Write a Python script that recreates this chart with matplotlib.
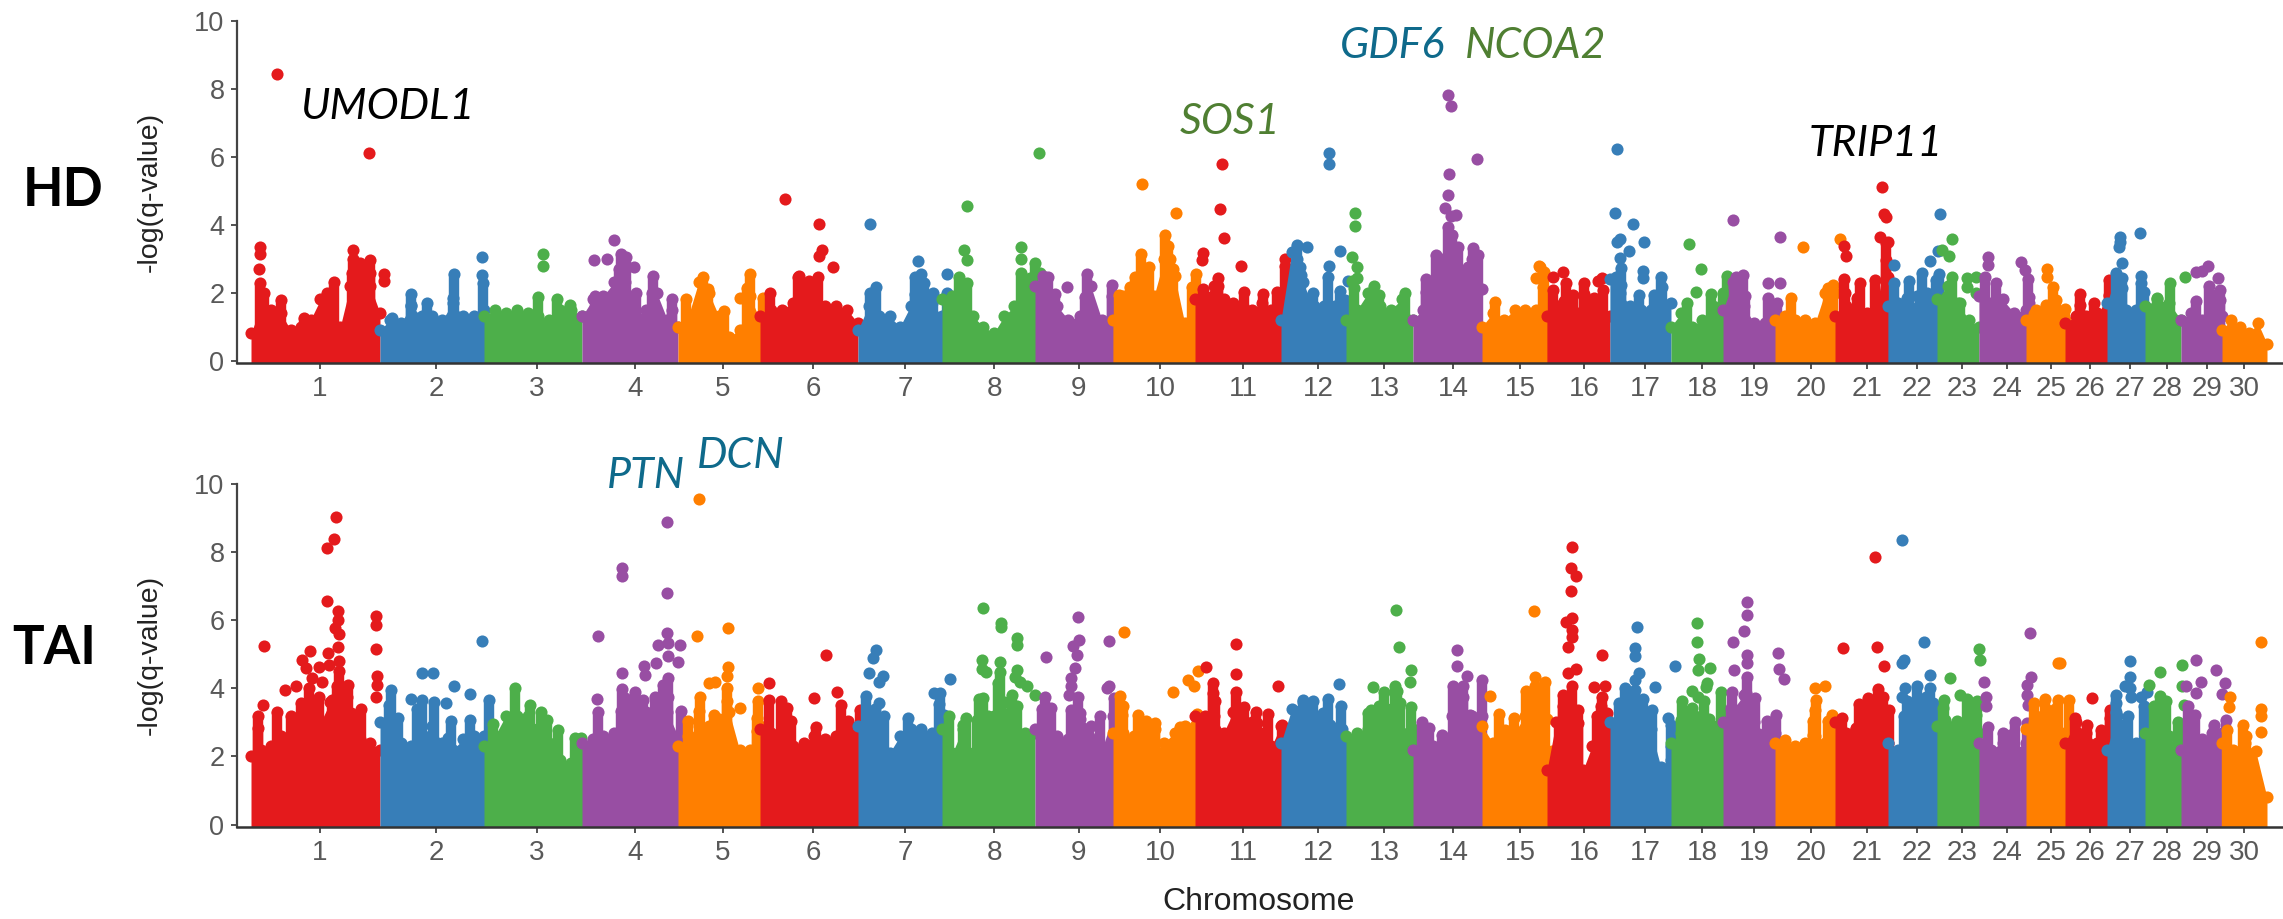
import matplotlib
matplotlib.use("Agg")
import matplotlib.pyplot as plt
import numpy as np

WIDTH, HEIGHT = 2283, 919

chromosomes = [str(i) for i in range(1, 31)]
chrom_colors = ["#E41A1C", "#377EB8", "#4DAF4A", "#984EA3", "#FF7F00"]

chrom_edges = [251, 380, 484, 582, 678, 760, 858, 942, 1035, 1113, 1195, 1281, 1346, 1413, 1482, 1547,
               1610, 1671, 1723, 1775, 1835, 1888, 1937, 1979, 2026, 2065, 2107, 2145, 2181, 2222, 2267]
chrom_ticks = [320, 436, 537, 635, 723, 813, 905, 994, 1079, 1160, 1243, 1318, 1384, 1453, 1520,
               1584, 1645, 1702, 1754, 1811, 1867, 1917, 1962, 2007, 2051, 2090, 2130, 2167, 2207, 2244]
y_ticks = [0, 2, 4, 6, 8, 10]

# top of the dense cloud of points along each chromosome
hd_upper = [
    [0.8, 1.6, 1.5, 1.4, 0.9, 1.0, 1.2, 1.8, 1.9, 1.0, 2.2, 2.1, 2.2, 1.4],
    [0.9, 1.2, 1.1, 1.6, 1.3, 1.3, 1.2, 1.7, 1.3, 1.3, 1.5],
    [1.3, 1.5, 1.4, 1.5, 1.4, 1.3, 1.2, 1.5, 1.5, 1.3],
    [1.3, 1.8, 1.9, 2.3, 2.3, 1.3, 1.5, 2.0, 1.2, 1.0],
    [1.0, 1.3, 2.3, 2.0, 1.3, 0.7, 0.9, 1.9, 1.2],
    [1.3, 1.5, 1.5, 1.7, 1.8, 1.7, 1.6, 1.6, 1.5, 1.1],
    [0.9, 1.6, 1.3, 1.3, 1.0, 1.6, 1.7, 1.7, 1.3],
    [1.8, 1.9, 1.9, 1.3, 1.0, 0.8, 1.3, 1.6, 2.0, 2.1],
    [2.2, 2.0, 1.6, 1.2, 1.3, 2.2, 1.2, 1.4],
    [1.2, 1.9, 2.0, 2.7, 1.9, 3.0, 2.5, 1.1, 1.9],
    [1.8, 1.9, 2.2, 1.8, 1.7, 1.6, 1.5, 1.7, 1.5, 2.0],
    [1.2, 3.2, 2.3, 1.6, 1.6, 1.6, 1.3],
    [1.2, 1.5, 2.0, 1.6, 1.5, 1.8, 1.2],
    [1.2, 1.5, 2.0, 3.0, 3.3, 2.5, 3.0, 2.1],
    [1.0, 1.4, 1.2, 1.5, 1.5, 1.5, 1.8],
    [1.3, 1.6, 1.4, 1.4, 1.4, 1.3, 1.3],
    [2.4, 2.0, 1.6, 1.5, 1.5, 1.6, 1.7],
    [1.0, 1.4, 1.0, 1.2, 1.6, 1.7],
    [1.5, 2.3, 1.6, 1.1, 1.1, 1.1],
    [1.2, 1.3, 1.2, 1.2, 1.1, 2.0, 2.0],
    [1.3, 1.6, 1.5, 1.4, 1.7, 3.5],
    [1.6, 1.7, 1.4, 1.9, 2.0, 1.9],
    [1.8, 2.2, 1.7, 1.2, 1.0],
    [1.9, 1.7, 1.8, 1.4, 1.5],
    [1.2, 1.5, 1.3, 1.3, 1.2],
    [1.1, 1.3, 1.3, 1.4, 1.5],
    [1.7, 2.5, 1.5, 1.5, 1.6],
    [1.6, 1.8, 1.7, 1.2],
    [1.2, 1.4, 1.2, 1.5, 1.3],
    [0.9, 1.2, 1.0, 0.8, 1.1, 0.5],
]

tai_upper = [
    [2.0, 2.2, 2.3, 2.6, 2.6, 2.9, 3.0, 3.0, 3.6, 3.6, 3.0, 2.5, 2.4, 2.2],
    [3.0, 3.0, 2.4, 2.3, 2.6, 2.9, 2.4, 2.2, 2.5, 2.6, 2.6],
    [2.3, 2.6, 3.2, 3.2, 3.2, 2.8, 2.4, 1.9, 1.8, 1.8],
    [2.4, 2.5, 2.6, 2.7, 3.0, 3.2, 3.3, 3.5, 3.3, 2.6],
    [2.3, 2.6, 2.9, 2.9, 3.1, 3.3, 2.2, 2.2, 2.9],
    [2.8, 2.7, 2.7, 2.3, 2.4, 2.6, 2.5, 2.6, 2.7, 2.9],
    [2.9, 3.2, 2.4, 2.1, 2.6, 2.8, 2.8, 2.7, 2.9],
    [2.8, 2.1, 2.8, 2.1, 3.0, 3.2, 3.6, 2.8, 2.7, 2.7],
    [2.8, 3.0, 2.6, 2.5, 3.1, 2.9, 2.2, 3.2],
    [2.7, 2.7, 2.6, 2.4, 2.1, 2.4, 2.7, 2.9, 2.9],
    [3.2, 3.2, 3.2, 2.7, 3.3, 3.0, 3.0, 2.3, 2.3, 2.9],
    [2.4, 3.4, 3.6, 2.7, 2.8, 2.7, 2.2],
    [2.6, 2.7, 2.8, 3.0, 3.4, 2.7, 2.8],
    [2.2, 2.5, 2.3, 2.3, 3.2, 3.2, 3.2, 3.2],
    [2.9, 2.4, 2.4, 2.7, 3.2, 3.2, 3.1],
    [1.6, 3.0, 3.4, 3.2, 1.6, 2.3, 2.9, 2.4],
    [3.0, 3.0, 3.1, 3.0, 2.8, 1.7, 1.9],
    [2.4, 2.7, 2.6, 2.7, 2.9, 2.9],
    [3.0, 3.4, 3.8, 3.0, 2.7, 2.7],
    [2.4, 2.2, 2.3, 2.4, 2.6, 2.4, 2.8],
    [3.0, 2.7, 2.8, 3.1, 3.1, 2.4],
    [2.4, 2.2, 2.6, 3.0, 3.2, 3.2],
    [2.9, 2.9, 2.7, 2.7, 2.7],
    [2.4, 2.2, 2.4, 2.2, 2.4],
    [2.8, 3.2, 3.4, 3.4, 2.7],
    [2.4, 3.0, 2.7, 2.4, 2.7],
    [2.2, 3.2, 2.5, 2.4, 2.4],
    [2.7, 3.2, 2.6, 2.1],
    [2.2, 2.6, 2.5, 2.7, 2.7],
    [2.4, 2.2, 2.4, 2.15, 0.8],
]

# single markers standing out of the cloud, (position, value), per chromosome
hd_peaks = [
    [(277, 8.43), (369, 6.12), (260, 3.33), (260, 3.14), (259, 2.7), (260, 2.27), (264, 2.0), (281, 1.78),
     (334, 2.31), (353, 3.25), (353, 2.98), (370, 2.96), (360, 2.86), (352, 2.57), (384, 2.55), (384, 2.35),
     (370, 2.57), (304, 1.25), (327, 1.98)],
    [(392, 1.25), (411, 1.95), (411, 1.65), (427, 1.7), (454, 2.55), (453, 1.85), (482, 3.05), (482, 2.53), (483, 2.28)],
    [(543, 3.14), (543, 2.79), (538, 1.88), (557, 1.8), (570, 1.65)],
    [(595, 1.9), (594, 2.96), (607, 2.98), (614, 3.55), (621, 3.14), (626, 3.05), (619, 2.7), (634, 2.75),
     (653, 2.5), (636, 2.0), (652, 2.0), (672, 1.8), (672, 1.5)],
    [(686, 1.81), (750, 2.55), (747, 2.15), (763, 1.83), (703, 2.45), (708, 2.1), (740, 1.85), (724, 1.45)],
    [(785, 4.75), (819, 4.03), (822, 3.24), (819, 3.08), (833, 2.74), (799, 2.49), (818, 2.45), (809, 2.35),
     (799, 2.27), (798, 2.47), (770, 1.98)],
    [(870, 4.03), (918, 2.94), (921, 2.55), (915, 2.47), (924, 2.29), (876, 2.18), (870, 1.98), (915, 1.95),
     (933, 1.98), (947, 2.55), (947, 1.98)],
    [(967, 4.55), (964, 3.25), (967, 2.96), (959, 2.47), (967, 2.29), (1039, 6.12), (1021, 3.33), (1021, 2.99),
     (1035, 2.88), (1021, 2.59), (1040, 2.59), (1030, 2.42)],
    [(1067, 2.18), (1087, 2.55), (1112, 2.22), (1055, 1.95), (1085, 1.88), (1112, 1.9), (1043, 2.5), (1048, 2.45)],
    [(1142, 5.19), (1176, 4.34), (1165, 3.69), (1168, 3.37), (1141, 3.13), (1119, 1.93), (1135, 2.47), (1196, 2.55),
     (1192, 2.18), (1170, 3.0), (1149, 2.76), (1173, 2.7), (1130, 2.18)],
    [(1222, 5.77), (1220, 4.45), (1224, 3.61), (1203, 3.16), (1202, 2.96), (1241, 2.79), (1218, 2.44), (1285, 2.98),
     (1285, 2.78), (1286, 2.47), (1287, 2.13), (1263, 1.96), (1244, 2.03), (1277, 2.03), (1218, 2.2), (1203, 2.1)],
    [(1329, 6.12), (1329, 5.77), (1340, 3.23), (1307, 3.35), (1297, 3.4), (1329, 2.79), (1328, 2.47), (1340, 2.06),
     (1348, 2.35), (1301, 2.52), (1313, 2.0), (1345, 1.78), (1297, 3.0), (1300, 2.75)],
    [(1355, 4.35), (1355, 3.97), (1352, 3.04), (1357, 2.76), (1357, 2.42), (1354, 2.13), (1374, 2.2), (1379, 1.93),
     (1405, 1.98), (1352, 2.35)],
    [(1448, 7.81), (1451, 7.49), (1477, 5.93), (1449, 5.49), (1448, 4.87), (1445, 4.48), (1451, 4.24), (1456, 4.28),
     (1448, 3.94), (1449, 3.6), (1436, 3.11), (1473, 3.32), (1478, 3.11), (1426, 2.39), (1426, 2.03), (1458, 3.35),
     (1452, 3.7), (1441, 2.9), (1468, 2.75), (1475, 2.5)],
    [(1495, 1.71), (1540, 2.76), (1536, 2.42), (1543, 2.18), (1539, 2.79), (1544, 2.6)],
    [(1553, 2.47), (1563, 2.6), (1566, 2.27), (1573, 1.93), (1584, 2.27), (1584, 1.96), (1594, 1.83), (1602, 2.42),
     (1598, 2.35), (1603, 2.08), (1553, 2.08), (1564, 1.74)],
    [(1617, 6.24), (1615, 4.33), (1633, 4.02), (1620, 3.58), (1617, 3.48), (1644, 3.5), (1629, 3.23), (1620, 3.01),
     (1621, 2.72), (1616, 2.47), (1643, 2.65), (1643, 2.42), (1661, 2.45), (1662, 2.18), (1639, 1.93), (1654, 1.93),
     (1621, 2.22)],
    [(1689, 3.42), (1701, 2.7), (1696, 2.03), (1711, 1.96), (1723, 1.98), (1727, 2.49), (1687, 1.7)],
    [(1733, 4.13), (1780, 3.65), (1743, 2.52), (1736, 2.47), (1745, 1.91), (1768, 2.27), (1780, 2.27), (1768, 1.85),
     (1777, 1.69), (1734, 2.18)],
    [(1791, 1.85), (1803, 3.33), (1840, 3.57), (1828, 2.13), (1833, 2.22), (1830, 1.78)],
    [(1882, 5.1), (1884, 4.31), (1886, 4.22), (1880, 3.63), (1886, 3.45), (1844, 3.37), (1846, 3.08), (1844, 2.39),
     (1860, 2.27), (1875, 2.37), (1845, 1.98), (1857, 1.85), (1886, 2.96), (1888, 2.47), (1892, 2.08)],
    [(1940, 4.3), (1894, 2.8), (1894, 2.27), (1909, 2.35), (1922, 2.57), (1930, 2.94), (1938, 3.23), (1939, 2.55),
     (1936, 2.37), (1907, 1.83)],
    [(1952, 3.57), (1942, 3.25), (1949, 3.08), (1952, 2.45), (1967, 2.42), (1976, 2.45), (1967, 2.18), (1976, 1.98),
     (1960, 1.69)],
    [(1988, 3.04), (1988, 2.81), (1985, 2.45), (1996, 2.27), (2021, 2.89), (2025, 2.67), (2028, 2.39), (2029, 1.88),
     (2029, 1.69)],
    [(2047, 2.7), (2047, 2.45), (2053, 2.18), (2056, 1.78), (2046, 1.64), (2065, 1.51), (2034, 1.37)],
    [(2080, 1.96), (2080, 1.64), (2094, 1.69), (2109, 2.37), (2109, 1.93)],
    [(2120, 3.63), (2119, 3.35), (2120, 3.5), (2140, 3.75), (2122, 2.86), (2116, 2.59), (2141, 2.49), (2141, 2.27),
     (2144, 2.03), (2122, 2.42), (2122, 2.13)],
    [(2170, 2.29), (2185, 2.47), (2157, 1.83)],
    [(2196, 2.6), (2202, 2.65), (2208, 2.79), (2218, 2.44), (2209, 2.2), (2220, 2.08), (2220, 1.78), (2196, 1.74),
     (2212, 1.93)],
    [],
]

tai_peaks = [
    [(264, 5.24), (336, 9.04), (334, 8.38), (327, 8.13), (327, 6.57), (338, 6.26), (338, 6.01), (335, 5.77), (339, 5.6),
     (338, 5.21), (376, 6.11), (376, 5.85), (376, 5.17), (339, 4.79), (339, 4.5), (310, 5.11), (328, 5.05), (302, 4.84),
     (306, 4.6), (319, 4.64), (329, 4.69), (285, 3.94), (296, 4.06), (309, 4.0), (322, 4.2), (348, 4.09), (337, 4.06),
     (377, 4.35), (377, 4.1), (376, 3.76), (361, 3.4), (263, 3.52), (258, 3.18), (258, 2.83), (277, 3.32), (301, 3.57),
     (319, 3.76), (332, 3.67), (347, 3.76), (351, 3.27), (291, 3.18), (312, 4.3), (315, 3.5), (342, 3.3)],
    [(391, 3.94), (422, 4.45), (433, 4.45), (454, 4.06), (470, 3.84), (482, 5.39), (489, 3.65), (411, 3.69), (422, 3.65),
     (417, 3.4), (434, 3.6), (446, 3.57), (451, 3.03), (470, 3.08), (389, 3.52), (398, 3.13), (448, 2.54)],
    [(515, 4.0), (493, 2.94), (530, 3.52), (541, 3.32), (547, 3.08), (558, 2.79), (531, 2.83), (575, 2.54), (581, 2.54)],
    [(598, 5.54), (622, 7.52), (622, 7.3), (667, 8.88), (667, 6.81), (667, 5.64), (658, 5.28), (668, 5.33), (680, 5.26),
     (668, 4.94), (644, 4.66), (656, 4.74), (678, 4.76), (622, 4.46), (645, 4.4), (668, 4.3), (663, 4.1), (622, 3.98),
     (635, 3.89), (625, 3.71), (597, 3.69), (598, 3.32), (621, 3.35), (668, 3.76), (655, 3.76), (681, 3.35), (643, 3.67),
     (658, 3.47)],
    [(699, 9.56), (697, 5.54), (728, 5.77), (728, 4.64), (727, 4.37), (709, 4.15), (715, 4.2), (727, 4.0), (700, 3.76),
     (727, 3.62), (699, 3.35), (740, 3.42), (688, 3.05), (758, 4.0), (758, 3.62), (757, 3.13), (714, 3.23), (757, 2.74)],
    [(769, 4.15), (769, 3.67), (781, 3.62), (787, 3.42), (791, 3.03), (826, 4.99), (814, 3.71), (837, 3.89), (841, 3.5),
     (816, 2.88), (860, 3.37), (848, 3.03)],
    [(876, 5.13), (873, 4.89), (869, 4.45), (883, 4.35), (879, 4.2), (866, 3.79), (879, 3.57), (884, 3.2), (934, 3.86),
     (940, 3.86), (939, 3.54), (908, 3.13), (950, 4.28), (944, 3.23), (875, 3.4)],
    [(983, 6.36), (1001, 5.91), (1001, 5.8), (1017, 5.47), (1017, 5.28), (982, 4.84), (982, 4.57), (986, 4.48), (1000, 4.76),
     (1000, 4.48), (998, 4.15), (1017, 4.55), (1015, 4.32), (1020, 4.2), (1027, 4.08), (1035, 3.81), (979, 3.69), (983, 3.73),
     (1012, 3.81), (1000, 3.42), (1017, 3.47), (966, 3.13), (988, 3.18), (963, 2.93), (977, 3.08), (949, 3.18)],
    [(1078, 6.09), (1079, 5.43), (1073, 5.23), (1077, 4.97), (1046, 4.92), (1075, 4.6), (1071, 4.3), (1071, 4.06), (1109, 5.38),
     (1109, 4.06), (1114, 3.71), (1069, 3.81), (1078, 3.76), (1045, 3.74), (1051, 3.42), (1042, 3.39), (1071, 3.37), (1080, 3.29),
     (1100, 3.18), (1114, 3.18), (1107, 4.0)],
    [(1124, 5.65), (1120, 3.79), (1123, 3.47), (1122, 3.23), (1138, 3.23), (1146, 3.03), (1155, 2.98), (1155, 2.82), (1173, 3.89),
     (1188, 4.25), (1194, 4.08), (1198, 4.5), (1197, 3.26), (1180, 2.88)],
    [(1236, 5.31), (1206, 4.64), (1236, 4.43), (1213, 4.15), (1278, 4.06), (1213, 3.86), (1236, 3.88), (1215, 3.62), (1244, 3.45),
     (1236, 3.29), (1256, 3.3), (1268, 3.26), (1282, 2.93), (1257, 2.98), (1260, 2.69), (1238, 3.18)],
    [(1339, 4.13), (1328, 3.69), (1341, 3.49), (1323, 3.29), (1313, 3.62), (1303, 3.65), (1342, 2.82), (1330, 2.93)],
    [(1396, 6.3), (1399, 5.21), (1411, 4.53), (1410, 4.2), (1373, 4.04), (1384, 3.89), (1395, 4.08), (1397, 3.91), (1400, 3.57),
     (1411, 3.44), (1379, 3.47), (1371, 3.37), (1368, 3.27), (1382, 3.03), (1383, 2.88), (1395, 3.23), (1420, 2.74)],
    [(1457, 5.13), (1457, 4.67), (1467, 4.35), (1482, 4.25), (1463, 4.06), (1453, 4.06), (1463, 3.76), (1461, 3.47), (1422, 3.0),
     (1429, 2.83), (1442, 2.64), (1454, 3.23), (1470, 3.23)],
    [(1534, 6.27), (1490, 3.78), (1499, 3.26), (1505, 2.79), (1514, 3.13), (1535, 4.33), (1535, 4.08), (1526, 3.91), (1545, 4.18),
     (1543, 3.45), (1552, 2.15)],
    [(1572, 8.16), (1571, 7.53), (1576, 7.3), (1571, 6.85), (1572, 6.06), (1566, 5.96), (1572, 5.72), (1572, 5.52), (1568, 5.21),
     (1602, 4.99), (1576, 4.56), (1568, 4.45), (1572, 4.06), (1563, 3.81), (1563, 3.47), (1578, 3.37), (1594, 4.03), (1605, 4.06),
     (1602, 3.76), (1601, 3.47), (1607, 3.27), (1559, 2.98), (1578, 2.98), (1597, 3.18)],
    [(1637, 5.8), (1635, 5.18), (1635, 4.94), (1639, 4.45), (1635, 4.25), (1625, 4.0), (1655, 4.04), (1635, 3.96), (1643, 3.7),
     (1619, 3.57), (1622, 3.37), (1639, 3.45), (1652, 3.37), (1650, 3.13), (1668, 3.13), (1671, 2.93), (1675, 4.66), (1671, 2.3)],
    [(1697, 5.93), (1697, 5.37), (1699, 4.86), (1698, 4.55), (1710, 4.6), (1707, 4.15), (1706, 4.04), (1721, 3.89), (1692, 3.91),
     (1698, 3.76), (1704, 3.62), (1682, 3.62), (1692, 3.42), (1695, 3.18), (1681, 3.08), (1709, 3.1), (1724, 3.08)],
    [(1747, 6.54), (1747, 6.16), (1744, 5.67), (1733, 5.37), (1747, 4.99), (1747, 4.74), (1734, 4.55), (1747, 4.33), (1732, 3.89),
     (1746, 3.86), (1755, 3.71), (1778, 5.04), (1779, 4.57), (1784, 4.28), (1776, 3.23), (1767, 3.03), (1731, 3.42)],
    [(1815, 4.0), (1825, 4.08), (1816, 3.67), (1815, 3.37), (1813, 3.03), (1832, 3.23), (1828, 3.03), (1785, 2.49), (1813, 2.64),
     (1832, 2.83)],
    [(1875, 7.85), (1843, 5.18), (1877, 5.21), (1884, 4.66), (1878, 3.98), (1883, 3.76), (1868, 3.71), (1859, 3.54), (1889, 3.37),
     (1870, 3.27), (1884, 3.08), (1842, 3.13), (1856, 2.83)],
    [(1902, 8.35), (1924, 5.35), (1904, 4.84), (1902, 4.74), (1930, 4.4), (1917, 4.06), (1930, 4.0), (1905, 4.0), (1902, 3.76),
     (1907, 3.62), (1926, 3.76), (1933, 3.57), (1904, 3.18), (1907, 2.93), (1931, 3.23)],
    [(1979, 5.17), (1980, 4.84), (1950, 4.3), (1960, 3.81), (1967, 3.7), (1944, 3.67), (1977, 3.62), (1943, 3.42), (1976, 3.23),
     (1974, 3.03), (1945, 3.08), (1957, 3.03)],
    [(2030, 5.64), (1984, 4.18), (2031, 4.32), (1986, 3.76), (2027, 4.1), (2027, 3.81), (1986, 3.47), (2028, 3.52), (1988, 2.88),
     (2015, 3.0), (2003, 2.69), (2010, 2.64), (2027, 2.98)],
    [(2058, 4.75), (2060, 4.74), (2034, 3.57), (2045, 3.69), (2058, 3.65), (2069, 3.65), (2034, 2.98), (2051, 3.18)],
    [(2092, 3.73), (2075, 3.13), (2087, 2.93), (2101, 2.79), (2110, 3.37), (2110, 3.13)],
    [(2130, 4.8), (2130, 4.33), (2125, 4.06), (2116, 3.81), (2116, 3.57), (2130, 4.0), (2131, 3.76), (2141, 3.76), (2147, 3.89),
     (2144, 3.47), (2116, 3.32), (2128, 3.18), (2123, 2.93), (2118, 2.64)],
    [(2160, 4.48), (2149, 4.09), (2182, 4.69), (2182, 4.08), (2160, 3.79), (2166, 3.62), (2184, 3.52), (2154, 3.47), (2178, 3.0),
     (2184, 2.44)],
    [(2196, 4.83), (2216, 4.54), (2201, 4.18), (2225, 4.17), (2186, 4.06), (2196, 3.86), (2222, 3.84), (2188, 3.47), (2195, 3.23),
     (2214, 2.93), (2226, 3.08), (2226, 2.79)],
    [(2261, 5.37), (2230, 3.74), (2229, 3.44), (2243, 2.93), (2246, 2.61), (2261, 3.39), (2261, 3.2), (2261, 2.71), (2227, 2.79)],
]

plt.rcParams["font.family"] = ["Liberation Sans", "DejaVu Sans"]

TEAL = "#0F6A8B"
GREEN = "#4F7F32"
DOT_SIZE = 76
Y_BASE = -0.07


def draw_panel(ax, upper, peaks, reach):
    """Draw one manhattan panel, chromosome after chromosome so later ones lie on top.
    :param reach: peaks this close above the cloud get a stack down to it, the way the points pile up"""
    for i in range(len(chromosomes)):
        color = chrom_colors[i % len(chrom_colors)]
        z = 2 + i * 0.01
        x = np.linspace(chrom_edges[i], chrom_edges[i + 1], len(upper[i]))
        ax.fill_between(x, Y_BASE, upper[i], color=color, linewidth=0, zorder=z)
        ax.scatter(x, upper[i], s=DOT_SIZE, color=color, linewidths=0, zorder=z)
        if peaks[i]:
            px, py = zip(*peaks[i])
            ax.scatter(px, py, s=DOT_SIZE, color=color, linewidths=0, zorder=z)
            cloud = np.interp(px, x, upper[i])
            for pos, value, base in zip(px, py, cloud):
                if value - base < reach:
                    ax.vlines(pos, Y_BASE, value, color=color, linewidth=7.5, zorder=z)

    ax.set_xlim(237, WIDTH)
    ax.set_ylim(Y_BASE, 10)
    ax.set_xticks(chrom_ticks)
    ax.set_xticklabels(chromosomes)
    ax.set_yticks(y_ticks)
    ax.tick_params(axis="x", length=4.5, width=1.3, color="#444444", labelcolor="#595959", labelsize=20, pad=5)
    ax.tick_params(axis="y", length=4, width=1.3, color="#444444", labelcolor="#595959", labelsize=19.5, pad=5)
    ax.spines["top"].set_visible(False)
    ax.spines["right"].set_visible(False)
    ax.spines["left"].set_linewidth(1.6)
    ax.spines["bottom"].set_linewidth(1.8)
    ax.spines["left"].set_color("#444444")
    ax.spines["bottom"].set_color("#333333")
    ax.spines["bottom"].set_zorder(5)


def label_at(x, y, text, **kwargs):
    fig.text(x / WIDTH, 1 - y / HEIGHT, text, ha="center", va="center", **kwargs)


fig = plt.figure(figsize=(WIDTH / 100, HEIGHT / 100), dpi=100)
ax_hd = fig.add_axes([237 / WIDTH, 1 - 363 / HEIGHT, (WIDTH - 237) / WIDTH, 342.3 / HEIGHT])
ax_tai = fig.add_axes([237 / WIDTH, 1 - 827 / HEIGHT, (WIDTH - 237) / WIDTH, 343 / HEIGHT])

draw_panel(ax_hd, hd_upper, hd_peaks, 0.9)
draw_panel(ax_tai, tai_upper, tai_peaks, 1.1)

label_at(150, 192, "-log(q-value)", rotation=90, fontsize=20.5, color="#222222")
label_at(150, 655, "-log(q-value)", rotation=90, fontsize=20.5, color="#222222")
label_at(1259, 902, "Chromosome", fontsize=23, color="#222222")

bold = dict(family="Lato", fontweight="bold", fontsize=38, color="black")
label_at(63, 191, "HD", **bold)
label_at(54, 648, "TAI", **bold)

gene = dict(family="Lato", style="italic", fontsize=31)
label_at(387, 107, "UMODL1", color="black", **gene)
label_at(1230, 122, "SOS1", color=GREEN, **gene)
label_at(1393, 46, "GDF6", color=TEAL, **gene)
label_at(1536, 46, "NCOA2", color=GREEN, **gene)
label_at(1876, 144, "TRIP11", color="black", **gene)
label_at(646, 476, "PTN", color=TEAL, **gene)
label_at(741, 456, "DCN", color=TEAL, **gene)

fig.savefig("out.png", dpi=100)
